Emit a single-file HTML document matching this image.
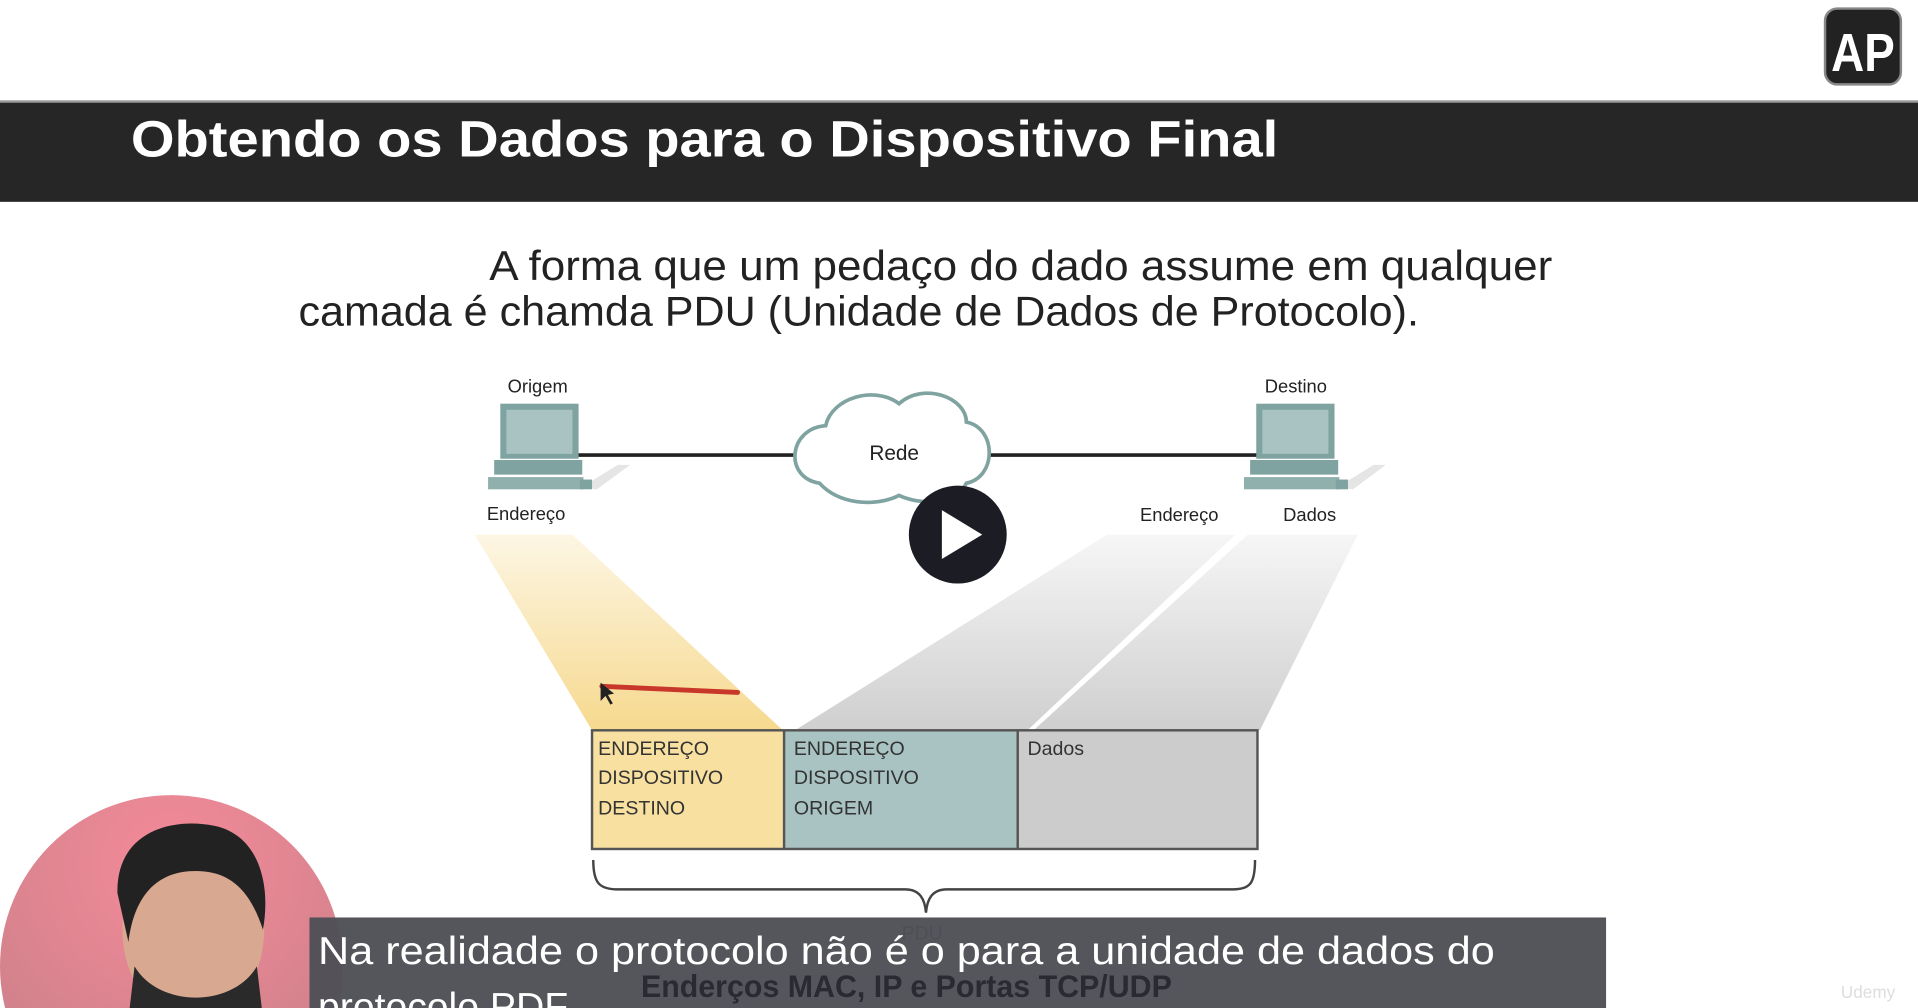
<!DOCTYPE html>
<html><head><meta charset="utf-8"><style>
html,body{margin:0;padding:0;background:#fff;overflow:hidden;width:1918px;height:1008px}
svg{display:block}
text{font-family:"Liberation Sans",sans-serif}
</style></head><body>
<svg width="1918" height="1008" viewBox="0 0 1568 824" preserveAspectRatio="none" xmlns="http://www.w3.org/2000/svg">
<defs>
<linearGradient id="yb" x1="0" y1="0" x2="0" y2="1"><stop offset="0" stop-color="#fdf6e4"/><stop offset="1" stop-color="#f6d98e"/></linearGradient>
<linearGradient id="gb" x1="0" y1="0" x2="0" y2="1"><stop offset="0" stop-color="#f6f6f6"/><stop offset="1" stop-color="#cfcfcf"/></linearGradient>
<radialGradient id="pk" cx="0.5" cy="0.2" r="0.8"><stop offset="0" stop-color="#f58a9a"/><stop offset="1" stop-color="#c88088"/></radialGradient>
<clipPath id="cl"><rect x="0" y="0" width="1568" height="824"/></clipPath>
</defs>
<g clip-path="url(#cl)">
<rect width="1568" height="824" fill="#fff"/>
<rect x="1492" y="7" width="62" height="62" rx="10" fill="#222" stroke="#888" stroke-width="2"/>
<text x="1523" y="58" font-size="44" font-weight="bold" fill="#fff" text-anchor="middle" textLength="52" lengthAdjust="spacingAndGlyphs">AP</text>
<rect x="0" y="83" width="1568" height="82" fill="#262626"/>
<rect x="0" y="82" width="1568" height="2" fill="#999"/>
<text x="107" y="128" font-size="42" font-weight="bold" fill="#fff" textLength="938" lengthAdjust="spacingAndGlyphs">Obtendo os Dados para o Dispositivo Final</text>
<text x="400" y="229" font-size="34" fill="#222" textLength="869" lengthAdjust="spacingAndGlyphs">A forma que um pedaço do dado assume em qualquer</text>
<text x="244" y="266" font-size="34" fill="#222" textLength="916" lengthAdjust="spacingAndGlyphs">camada é chamda PDU (Unidade de Dados de Protocolo).</text>
<polygon points="388,437 468,437 640,597 484,597" fill="url(#yb)"/>
<polygon points="905,437 1010,437 840,597 650,597" fill="url(#gb)"/>
<polygon points="1020,437 1110,437 1030,597 845,597" fill="url(#gb)"/>
<line x1="470" y1="372" x2="655" y2="372" stroke="#222" stroke-width="3"/>
<line x1="805" y1="372" x2="1030" y2="372" stroke="#222" stroke-width="3"/>
<g fill="#fff" stroke="#7fa3a0" stroke-width="3">
<path d="M670,395 C640,390 645,350 675,348 C680,325 715,315 735,330 C755,312 790,325 790,345 C815,350 815,390 790,395 C780,415 750,412 735,405 C715,415 685,412 670,395 Z"/>
</g>
<text x="731" y="376" font-size="17" fill="#222" text-anchor="middle">Rede</text>
<g>
<polygon points="476,398 505,380 515,380 488,400" fill="#ccc" opacity="0.5"/>
<rect x="409" y="330" width="64" height="45" fill="#7fa3a0"/>
<rect x="414" y="335" width="54" height="36" fill="#a9c3c3"/>
<rect x="404" y="376" width="72" height="12" fill="#7fa3a0"/>
<rect x="399" y="390" width="78" height="10" fill="#8fb0ad"/>
<rect x="474" y="392" width="10" height="8" fill="#7fa3a0"/>
</g>
<g>
<polygon points="1094,398 1123,380 1133,380 1106,400" fill="#ccc" opacity="0.5"/>
<rect x="1027" y="330" width="64" height="45" fill="#7fa3a0"/>
<rect x="1032" y="335" width="54" height="36" fill="#a9c3c3"/>
<rect x="1022" y="376" width="72" height="12" fill="#7fa3a0"/>
<rect x="1017" y="390" width="78" height="10" fill="#8fb0ad"/>
<rect x="1092" y="392" width="10" height="8" fill="#7fa3a0"/>
</g>
<text x="415" y="321" font-size="15" fill="#222">Origem</text>
<text x="1034" y="321" font-size="15" fill="#222">Destino</text>
<text x="398" y="425" font-size="15" fill="#222">Endereço</text>
<text x="932" y="426" font-size="15" fill="#222">Endereço</text>
<text x="1049" y="426" font-size="15" fill="#222">Dados</text>
<circle cx="783" cy="437" r="40" fill="#1c1c24"/>
<polygon points="770,417 770,457 803,437" fill="#fff"/>
<path d="M492,561 L603,566" stroke="#c8382a" stroke-width="4" stroke-linecap="round"/>
<polygon points="491,558 491,573 495,569 499,576 501,575 497,568 502,567" fill="#222"/>
<rect x="484" y="597" width="157" height="97" fill="#f8e0a0"/>
<rect x="641" y="597" width="191" height="97" fill="#a9c3c3"/>
<rect x="832" y="597" width="196" height="97" fill="#cccccc"/>
<g fill="none" stroke="#555" stroke-width="2">
<rect x="484" y="597" width="544" height="97"/>
<line x1="641" y1="597" x2="641" y2="694"/>
<line x1="832" y1="597" x2="832" y2="694"/>
</g>
<g font-size="16" fill="#333">
<text x="489" y="617">ENDEREÇO</text><text x="489" y="641">DISPOSITIVO</text><text x="489" y="666">DESTINO</text>
<text x="649" y="617">ENDEREÇO</text><text x="649" y="641">DISPOSITIVO</text><text x="649" y="666">ORIGEM</text>
<text x="840" y="617">Dados</text>
</g>
<path d="M485,703 C485,722 490,727 505,727 L740,727 C752,727 756,735 757,746 C758,735 762,727 774,727 L1008,727 C1022,727 1026,722 1026,703" fill="none" stroke="#444" stroke-width="2"/>
<text x="737" y="768" font-size="16" fill="#333">PDU</text>
<circle cx="140" cy="790" r="140" fill="url(#pk)"/>
<ellipse cx="158" cy="760" rx="58" ry="75" fill="#d8a890"/>
<path d="M96,730 C95,680 140,668 175,675 C210,682 222,720 215,760 C205,730 190,712 160,712 C130,712 110,730 105,770 Z" fill="#222"/>
<path d="M110,790 C130,824 190,824 210,790 L214,824 L106,824 Z" fill="#2a2a2a"/>
<rect x="253" y="750" width="1060" height="74" fill="#505057" opacity="0.97"/>
<text x="524" y="815" font-size="26" font-weight="bold" fill="#2a2a33" textLength="434" lengthAdjust="spacingAndGlyphs">Enderços MAC, IP e Portas TCP/UDP</text>
<text x="260" y="788" font-size="32" fill="#fff" textLength="962" lengthAdjust="spacingAndGlyphs">Na realidade o protocolo não é o para a unidade de dados do</text>
<text x="260" y="834" font-size="32" fill="#fff">protocolo PDF.</text>
<text x="1505" y="816" font-size="14" fill="#ddd">Udemy</text>
</g>
</svg>
</body></html>
